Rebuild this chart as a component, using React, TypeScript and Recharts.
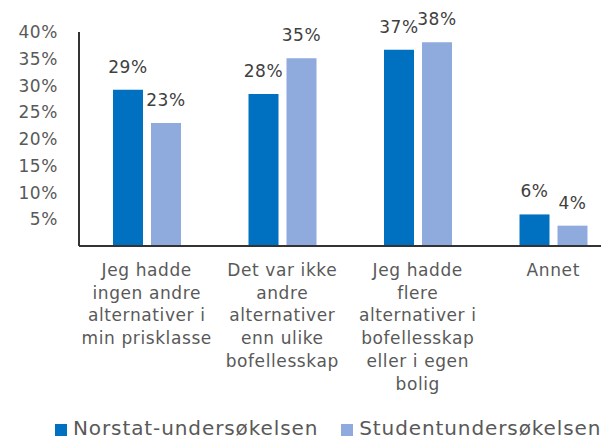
import React from 'react';
import { BarChart, Bar, XAxis, YAxis, LabelList } from 'recharts';

// kategorier, brutt i linjer slik de står i figuren
const categoryLines: string[][] = [
  ['Jeg hadde', 'ingen andre', 'alternativer i', 'min prisklasse'],
  ['Det var ikke', 'andre', 'alternativer', 'enn ulike', 'bofellesskap'],
  ['Jeg hadde', 'flere', 'alternativer i', 'bofellesskap', 'eller i egen', 'bolig'],
  ['Annet'],
];
const categories = categoryLines.map((lines) => lines.join(' '));

const seriesNames = ['Norstat-undersøkelsen', 'Studentundersøkelsen'];
const norstat = [29.2, 28.4, 36.7, 5.9];
const student = [23.0, 35.1, 38.1, 3.8];
const yTicks = [5, 10, 15, 20, 25, 30, 35, 40];

const colors = ['#0070C0', '#8FAADC'];
const FONT = '"DejaVu Sans", sans-serif';

const data = categories.map((name, i) => ({
  name,
  norstat: norstat[i],
  student: student[i],
}));

const CategoryTick = (props: any) => {
  const { x, y, index } = props;
  const lines = categoryLines[index] || [];
  return (
    <text
      x={x}
      y={y}
      textAnchor="middle"
      fill="#595959"
      fontSize={17}
      fontFamily={FONT}
      letterSpacing={0.6}
    >
      {lines.map((line, i) => (
        <tspan key={i} x={x} dy={i === 0 ? 30 : 22.7}>
          {line}
        </tspan>
      ))}
    </text>
  );
};

const pct = (v: any) => `${Math.round(Number(v))}%`;

export default function App() {
  return (
    <div
      style={{
        position: 'relative',
        width: 609,
        height: 441,
        margin: '-8px 0 0 -8px',
        overflow: 'hidden',
        background: '#fff',
      }}
    >
      <BarChart
        width={640}
        height={441}
        data={data}
        margin={{ top: 32, right: 19, left: 0, bottom: 0 }}
        barSize={30}
        barGap={8}
      >
        <YAxis
          width={79}
          domain={[0, 40]}
          ticks={yTicks}
          tickFormatter={(v) => `${v}%`}
          axisLine={{ stroke: '#333333', strokeWidth: 2 }}
          tickLine={false}
          tickSize={0}
          tickMargin={21}
          tick={{ fill: '#595959', fontSize: 17, fontFamily: FONT, letterSpacing: 0.6 }}
          interval={0}
        />
        <XAxis
          dataKey="name"
          height={195}
          axisLine={{ stroke: '#333333', strokeWidth: 2 }}
          tickLine={false}
          tickSize={0}
          tickMargin={0}
          interval={0}
          tick={<CategoryTick />}
        />
        <Bar dataKey="norstat" name={seriesNames[0]} fill={colors[0]} isAnimationActive={false}>
          <LabelList
            dataKey="norstat"
            position="top"
            offset={17}
            formatter={pct}
            fill="#404040"
            fontSize={17}
            fontFamily={FONT}
            letterSpacing={0.6}
          />
        </Bar>
        <Bar dataKey="student" name={seriesNames[1]} fill={colors[1]} isAnimationActive={false}>
          <LabelList
            dataKey="student"
            position="top"
            offset={17}
            formatter={pct}
            fill="#404040"
            fontSize={17}
            fontFamily={FONT}
            letterSpacing={0.6}
          />
        </Bar>
      </BarChart>
      <div
        style={{
          position: 'absolute',
          left: 55,
          top: 419,
          display: 'flex',
          alignItems: 'center',
          fontFamily: FONT,
          fontSize: 20,
          letterSpacing: 0.9,
          color: '#595959',
          whiteSpace: 'nowrap',
          lineHeight: '18px',
          height: 18,
        }}
      >
        {seriesNames.map((s, i) => (
          <div key={s} style={{ display: 'flex', alignItems: 'center', marginRight: i === 0 ? 23 : 0 }}>
            <span
              style={{
                display: 'inline-block',
                width: 12,
                height: 12,
                background: colors[i],
                marginRight: 6,
                marginTop: 4,
              }}
            />
            <span>{s}</span>
          </div>
        ))}
      </div>
    </div>
  );
}
